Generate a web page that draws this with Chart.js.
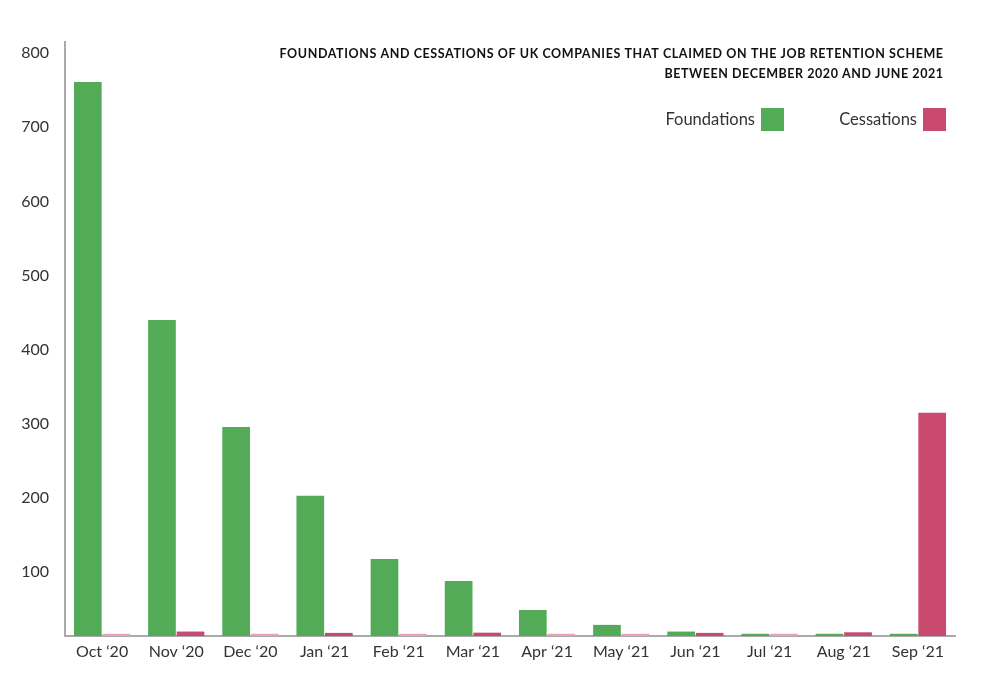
<!DOCTYPE html>
<html>
<head>
<meta charset="utf-8">
<script src="https://cdn.jsdelivr.net/npm/chart.js@4"></script>
<style>
  html, body { margin: 0; padding: 0; background: #fff; }
  #wrap { width: 1000px; height: 693px; position: relative; }
</style>
</head>
<body>
<div id="wrap"><canvas id="c"></canvas></div>
<script>
const categories = ["Oct \u201820", "Nov \u201820", "Dec \u201820", "Jan \u201821", "Feb \u201821", "Mar \u201821",
                    "Apr \u201821", "May \u201821", "Jun \u201821", "Jul \u201821", "Aug \u201821", "Sep \u201821"];
const foundations = [761, 440, 296, 203, 118, 88, 49, 29, 20, 17, 17, 17];
const cessations  = [17, 20, 17, 18.2, 17, 18.5, 17, 17, 18.2, 17, 19, 315];
const yTicks = [100, 200, 300, 400, 500, 600, 700, 800];
const titleLines = ["FOUNDATIONS AND CESSATIONS OF UK COMPANIES THAT CLAIMED ON THE JOB RETENTION SCHEME",
                    "BETWEEN DECEMBER 2020 AND JUNE 2021"];
const seriesNames = ["Foundations", "Cessations"];

const GREEN = "#53ab57", PINK = "#c9496f", PINK_LIGHT = "#e7a2b8";
const cessationColors = cessations.map(v => v < 17.5 ? PINK_LIGHT : PINK);

const overlay = {
  id: 'overlay',
  afterDraw(chart) {
    const ctx = chart.ctx;
    ctx.save();
    ctx.fillStyle = '#111';
    ctx.textBaseline = 'middle';
    ctx.textAlign = 'right';
    const targets = [[943, 54, 664], [943, 74, 279]];
    titleLines.forEach((t, i) => {
      ctx.font = 'bold 12.5px Lato, "Open Sans", sans-serif';
      ctx.letterSpacing = '0px';
      const w = ctx.measureText(t).width;
      const ls = (targets[i][2] - w) / (t.length);
      ctx.letterSpacing = ls.toFixed(2) + 'px';
      ctx.fillText(t, targets[i][0] + ls, targets[i][1]);
    });
    ctx.letterSpacing = '0px';
    ctx.font = '16.5px Lato, "Open Sans", sans-serif';
    const items = [[seriesNames[0], GREEN, 761], [seriesNames[1], PINK, 923]];
    items.forEach(([label, col, bx]) => {
      ctx.fillStyle = col;
      ctx.fillRect(bx, 108, 23, 23);
      ctx.fillStyle = '#333';
      ctx.textAlign = 'right';
      ctx.fillText(label, bx - 6, 120);
    });
    ctx.restore();
  }
};

new Chart(document.getElementById('c'), {
  type: 'bar',
  data: {
    labels: categories,
    datasets: [
      { label: seriesNames[0], data: foundations, backgroundColor: GREEN, borderWidth: 0 },
      { label: seriesNames[1], data: cessations, backgroundColor: cessationColors, borderWidth: 0 }
    ]
  },
  options: {
    responsive: true,
    maintainAspectRatio: false,
    animation: false,
    layout: { padding: { left: 0, right: 45, top: 42, bottom: 0 } },
    plugins: { legend: { display: false }, title: { display: false }, tooltip: { enabled: false } },
    categoryPercentage: 0.77,
    barPercentage: 0.97,
    scales: {
      x: {
        grid: { display: false, drawTicks: false },
        border: { display: true, color: '#aaa', width: 2 },
        ticks: { color: '#333', font: { family: 'Lato', size: 16 }, padding: 6, maxRotation: 0 },
        afterFit(s) { s.height = 693 - 636; }
      },
      y: {
        min: 14, max: 815,
        grid: { display: false, drawTicks: false },
        border: { display: true, color: '#aaa', width: 2 },
        ticks: { color: '#333', font: { family: 'Lato', size: 16 }, padding: 16 },
        afterBuildTicks(s) { s.ticks = yTicks.map(v => ({ value: v })); },
        afterFit(s) { s.width = 65; }
      }
    }
  },
  plugins: [overlay]
});
</script>
</body>
</html>
